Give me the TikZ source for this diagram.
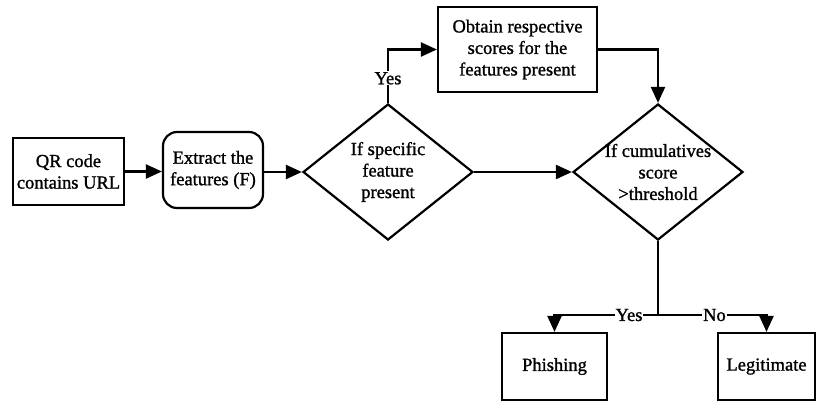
\documentclass[tikz,border=0pt]{standalone}
\usepackage{fontspec}
\setmainfont[FakeBold=1.2]{Liberation Serif}
\usetikzlibrary{shapes.geometric,arrows.meta}
\begin{document}
\begin{tikzpicture}[x=1pt,y=1pt,
  every node/.style={font=\fontsize{18.5}{21.5}\selectfont},
  box/.style={draw,line width=2.2pt,rectangle,inner sep=0pt,align=center},
  rbox/.style={box,rounded corners=14pt},
  decision/.style={draw,line width=2.2pt,diamond,aspect=1.25,inner sep=0pt,minimum width=170pt,minimum height=136pt},
  arr/.style={line width=2.2pt,-{Triangle[length=16pt,width=14pt]}},
  lbl/.style={fill=white,inner sep=1pt}]
\useasboundingbox (0,0) rectangle (816,-402);
\node[box,minimum width=111pt,minimum height=67pt] (qr) at (68.5,-171.5) {QR code\\contains URL};
\node[rbox,minimum width=100pt,minimum height=76pt] (ext) at (213,-170) {Extract the\\features (F)};
\node[decision,label={[align=center]center:If specific\\feature\\present}] (d1) at (388,-172) {};
\node[box,minimum width=159pt,minimum height=85pt] (ob) at (517.5,-49.5) {Obtain respective\\scores for the\\features present};
\node[decision,label={[align=center]center:If cumulatives\\score\\>threshold}] (d2) at (658,-172) {};
\node[box,minimum width=105pt,minimum height=67pt] (ph) at (554.5,-366.5) {Phishing};
\node[box,minimum width=97pt,minimum height=67pt] (lg) at (766.5,-366.5) {Legitimate};
\coordinate (split) at (658,-315);
\draw[arr] (qr.east) -- (qr.east -| ext.west);
\draw[arr] (ext.east |- d1.west) -- (d1.west);
\draw[arr] (d1.north) |- node[lbl,pos=0.23]{Yes} (ob.west);
\draw[arr] (ob.east) -| (d2.north);
\draw[arr] (d1.east) -- (d2.west);
\draw[line width=2.2pt] (d2.south) -- (split);
\draw[arr] (split) -| node[lbl,pos=0.14]{Yes} (ph.north);
\draw[arr] (split) -| node[lbl,pos=0.26]{No} (lg.north);
\end{tikzpicture}
\end{document}
